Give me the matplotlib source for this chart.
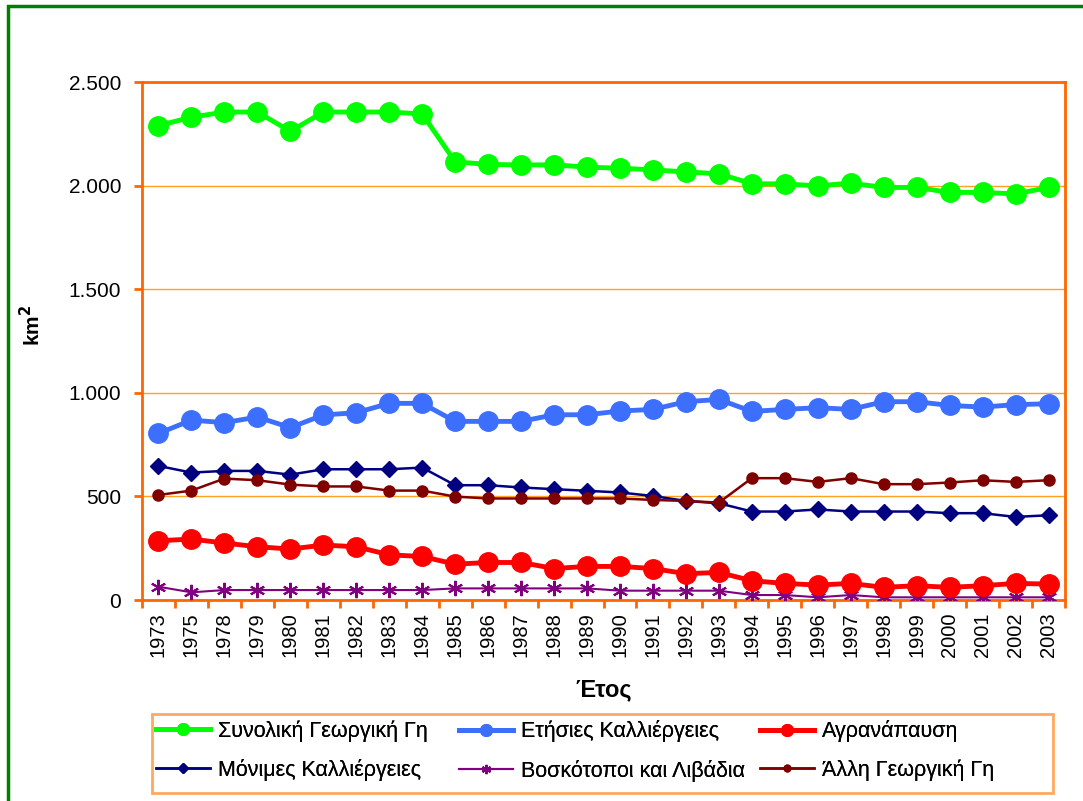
import matplotlib as m
m.use("Agg")
import matplotlib.pyplot as plt
from matplotlib.patches import Rectangle
from matplotlib.ticker import FuncFormatter
import numpy as np

plt.rcParams['font.family'] = ['Liberation Sans', 'DejaVu Sans']

# years on the category axis (not evenly spaced in time)
years = ['1973', '1975', '1978', '1979', '1980', '1981', '1982', '1983', '1984',
         '1985', '1986', '1987', '1988', '1989', '1990', '1991', '1992', '1993',
         '1994', '1995', '1996', '1997', '1998', '1999', '2000', '2001', '2002',
         '2003']

synoliki = [2290, 2330, 2355, 2355, 2262, 2355, 2355, 2355, 2346,
            2115, 2102, 2100, 2100, 2089, 2084, 2076, 2066, 2057,
            2009, 2008, 1999, 2012, 1991, 1991, 1967, 1967, 1960, 1991]
etisies = [804, 868, 856, 883, 832, 893, 904, 949, 949,
           862, 862, 862, 894, 894, 912, 920, 957, 968,
           910, 920, 928, 920, 957, 957, 939, 931, 943, 947]
agranapausi = [286, 294, 275, 257, 246, 265, 257, 218, 210,
               173, 181, 181, 152, 162, 162, 152, 127, 133,
               93, 80, 72, 80, 61, 69, 61, 69, 80, 77]
monimes = [647, 615, 623, 623, 605, 631, 631, 631, 639,
           554, 554, 543, 535, 527, 519, 502, 478, 467,
           427, 427, 437, 427, 427, 427, 419, 419, 401, 409]
voskotopoi = [64, 37, 48, 48, 48, 48, 48, 48, 48,
              56, 56, 56, 56, 56, 45, 45, 45, 45,
              24, 24, 13, 24, 13, 13, 13, 13, 13, 13]
alli = [507, 528, 586, 578, 557, 548, 548, 528, 528,
        499, 490, 490, 490, 490, 490, 483, 478, 470,
        588, 588, 570, 588, 559, 559, 567, 578, 570, 578]

labels = ['Συνολική Γεωργική Γη', 'Ετήσιες Καλλιέργειες', 'Αγρανάπαυση',
          'Μόνιμες Καλλιέργειες', 'Βοσκότοποι και Λιβάδια', 'Άλλη Γεωργική Γη']

W, H = 1083, 801
fig = plt.figure(figsize=(W / 100, H / 100), dpi=100)
ax = fig.add_axes([142 / W, 1 - 600 / H, 923 / W, 518 / H])

x = np.arange(len(years))
orange = '#FF6600'

l1, = ax.plot(x, synoliki, color='#00FF00', lw=3.5, marker='o', ms=14, zorder=5)
l2, = ax.plot(x, etisies, color='#3D6FFF', lw=3.5, marker='o', ms=14, zorder=5)
l3, = ax.plot(x, agranapausi, color='#FF0000', lw=3.5, marker='o', ms=14, zorder=5)
l4, = ax.plot(x, monimes, color='#000080', lw=1.8, marker='D', ms=8.5, zorder=4)
l5, = ax.plot(x, voskotopoi, color='#800080', lw=1.5, marker=(6, 2, 0), ms=11,
              mew=1.5, zorder=4)
l6, = ax.plot(x, alli, color='#800000', lw=1.8, marker='o', ms=8, zorder=4)

ax.set_xlim(-0.5, len(years) - 0.5)
ax.set_ylim(0, 2500)
ax.set_yticks([0, 500, 1000, 1500, 2000, 2500])
ax.yaxis.set_major_formatter(FuncFormatter(lambda v, p: '{:,.0f}'.format(v).replace(',', '.')))
ax.set_xticks(x)
ax.set_xticklabels(years, rotation=90, fontsize=14.5)
ax.set_xticks(np.arange(-0.5, len(years)), minor=True)
ax.tick_params(axis='x', which='major', length=0, pad=9)
ax.tick_params(axis='x', which='minor', length=6, width=2, color=orange)
ax.tick_params(axis='y', length=6, width=2, color=orange, labelsize=15, pad=9)
ax.grid(axis='y', color='#FFA020', lw=1)
ax.set_axisbelow(True)
for s in ax.spines.values():
    s.set_color(orange)
    s.set_linewidth(2)

ax.set_xlabel('Έτος', fontsize=17, fontweight='bold', labelpad=15)
ax.set_ylabel('km$^{\\mathbf{2}}$', fontsize=15, fontweight='bold')
ax.yaxis.set_label_coords((44 - 142) / 923, 0.53)

# legend: frame plus three one-column legends placed at the reference columns
fig.patches.append(Rectangle((152 / W, 1 - 793 / H), 901 / W, 79 / H,
                             transform=fig.transFigure, fill=False,
                             edgecolor='#FFA860', lw=2))
cols = [([l1, l4], [labels[0], labels[3]], 152),
        ([l2, l5], [labels[1], labels[4]], 455),
        ([l3, l6], [labels[2], labels[5]], 756)]
for hs, ls, xpx in cols:
    lg = fig.legend(hs, ls, loc='upper left', bbox_to_anchor=(xpx / W, 1 - 716 / H),
                    frameon=False, fontsize=15.5, markerscale=0.6,
                    handlelength=2.5, handletextpad=0.35, labelspacing=0.8,
                    borderaxespad=0, borderpad=0.2)
    fig.add_artist(lg)

# outer green frame
fig.patches.append(Rectangle((8 / W, -0.05), 1.2, 1 - 6 / H + 0.05,
                             transform=fig.transFigure, fill=False,
                             edgecolor='#008000', lw=2.5))

fig.savefig('out.png', dpi=100)
